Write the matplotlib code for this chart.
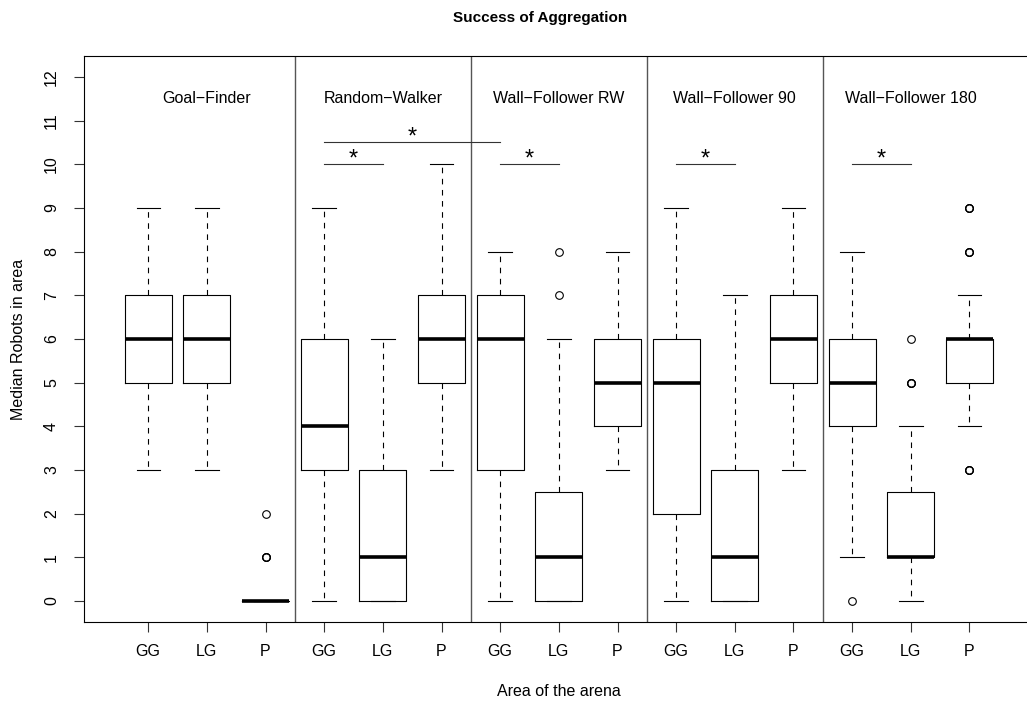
import matplotlib
matplotlib.use('Agg')
import matplotlib.pyplot as plt

plt.rcParams['font.family'] = ['Liberation Sans', 'DejaVu Sans']

# groups and areas
groups = ['Goal\u2212Finder', 'Random\u2212Walker', 'Wall\u2212Follower RW',
          'Wall\u2212Follower 90', 'Wall\u2212Follower 180']
areas = ['GG', 'LG', 'P']

# box stats, one entry per box (GG, LG, P for each group)
medians = [6, 6, 0,  4, 1, 6,  6, 1, 5,  5, 1, 6,  5, 1, 6]
q1s     = [5, 5, 0,  3, 0, 5,  3, 0, 4,  2, 0, 5,  4, 1, 5]
q3s     = [7, 7, 0,  6, 3, 7,  7, 2.5, 6,  6, 3, 7,  6, 2.5, 6]
wlo     = [3, 3, 0,  0, 0, 3,  0, 0, 3,  0, 0, 3,  1, 0, 4]
whi     = [9, 9, 0,  9, 6, 10, 8, 6, 8,  9, 7, 9,  8, 4, 7]
# repeated values = overplotted circles
outliers = [[], [], [1, 1, 1, 2],
            [], [], [],
            [], [7, 8], [],
            [], [], [],
            [0], [5, 5, 5, 6], [3, 3, 3, 8, 8, 8, 9, 9, 9]]

# significance bars (from box, to box, height)
sig_pairs = [(4, 5, 10), (4, 7, 10.5), (7, 8, 10), (10, 11, 10), (13, 14, 10)]

stats = []
for i in range(len(medians)):
    stats.append(dict(med=medians[i], q1=q1s[i], q3=q3s[i],
                      whislo=wlo[i], whishi=whi[i], fliers=outliers[i]))
positions = list(range(1, len(stats) + 1))

fig = plt.figure(figsize=(10.27, 7.02), dpi=100)
ax = fig.add_axes([84/1027, (702-622)/702, (1034-84)/1027, (622-56)/702])

lw = 0.8
ax.bxp(stats, positions=positions, widths=0.8, capwidths=0.4,
       boxprops=dict(color='black', linewidth=lw),
       medianprops=dict(color='black', linewidth=2.6, solid_capstyle='butt'),
       whiskerprops=dict(color='black', linewidth=lw, linestyle=(0, (5, 5))),
       capprops=dict(color='black', linewidth=lw),
       flierprops=dict(marker='o', markersize=5.5, markerfacecolor='none',
                       markeredgecolor='black', markeredgewidth=0.8))

# group separators
for k in range(1, len(groups)):
    ax.axvline(3*k + 0.5, color='#555555', linewidth=1)

fs = 11.5
# group names
for k, g in enumerate(groups):
    ax.text(3*k + 2, 11.5, g, ha='center', va='center', fontsize=fs)

# significance
for a, b, h in sig_pairs:
    ax.plot([a, b], [h, h], color='#333333', linewidth=lw)
    ax.text((a + b) / 2, h - 0.15, '*', ha='center', va='bottom', fontsize=17)

ax.set_xlim(-0.095, 16.1)
ax.set_ylim(-0.48, 12.48)
ax.set_xticks(positions)
ax.set_xticklabels(areas * len(groups), fontsize=fs)
ax.set_yticks(range(0, 13))
ax.set_yticklabels([str(v) for v in range(0, 13)], fontsize=fs, rotation=90, va='center')
ax.tick_params(direction='out', length=7, width=0.8, color='#333333')
ax.tick_params(axis='x', pad=9)
ax.tick_params(axis='y', pad=11)
for s in ax.spines.values():
    s.set_linewidth(0.8)

ax.set_xlabel('Area of the arena', fontsize=fs, labelpad=18)
ax.set_ylabel('Median Robots in area', fontsize=fs, labelpad=13)
fig.text(540/1027, 1 - 18/702, 'Success of Aggregation', ha='center', va='center',
         fontsize=11, fontweight='bold')

fig.savefig('out.png', dpi=100)
